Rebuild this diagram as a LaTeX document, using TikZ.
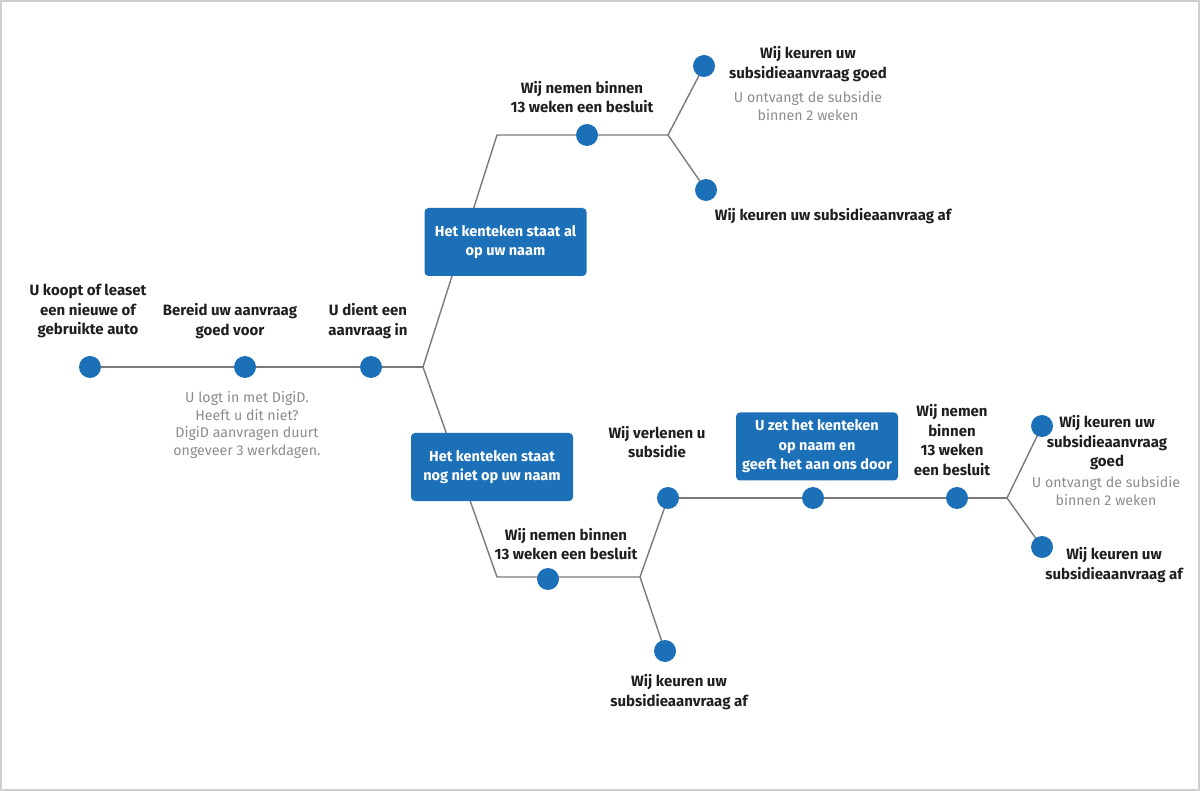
\documentclass[tikz,border=0pt]{standalone}
\usepackage{fontspec}
\setmainfont{Fira Sans}
\usetikzlibrary{backgrounds}
\definecolor{rblue}{HTML}{1C70B8}
\definecolor{lgray}{HTML}{7A7A7A}
\definecolor{tgray}{HTML}{8C8C8C}
\definecolor{frame}{HTML}{CFCFCF}
\begin{document}
\begin{tikzpicture}[x=1pt,y=-1pt,
 dot/.style={circle,fill=rblue,minimum size=22pt,inner sep=0pt},
 lbl/.style={align=center,font=\fontsize{15}{19.5}\selectfont\bfseries,text=black!88,inner sep=0pt},
 sub/.style={align=center,font=\fontsize{14.2}{17.5}\selectfont,text=tgray,inner sep=0pt},
 box/.style={fill=rblue,rounded corners=4pt,text=white,align=center,font=\fontsize{14.5}{19.5}\selectfont\bfseries,inner sep=0pt,minimum width=162pt,minimum height=68pt},
 conn/.style={draw=lgray,line width=1.4pt}]
\useasboundingbox (0,0) rectangle (1200,791);
\draw[frame,line width=2pt] (1,1) rectangle (1199,790);
% dots and coordinates
\node[dot] (d1) at (90,367) {};
\node[dot] (d2) at (245,367) {};
\node[dot] (d3) at (371,367) {};
\coordinate (j1) at (423,367);
\coordinate (c1) at (497,135);
\node[dot] (d4) at (587,135) {};
\coordinate (j2) at (668,135);
\node[dot] (d5) at (704,66) {};
\node[dot] (d6) at (706,190) {};
\coordinate (c2) at (497,577);
\node[dot] (d7) at (548,579) {};
\coordinate (j3) at (640,577);
\node[dot] (d8) at (668,498) {};
\node[dot] (d9) at (665,651) {};
\node[dot] (d10) at (813,498) {};
\node[dot] (d11) at (957,498) {};
\coordinate (j4) at (1007,498);
\node[dot] (d12) at (1042,426) {};
\node[dot] (d13) at (1042,547) {};
% boxes
\node[box] (b1) at (505.5,242) {Het kenteken staat al\\op uw naam};
\node[box] (b2) at (492,467) {Het kenteken staat\\nog niet op uw naam};
\node[box] (b3) at (817,446.5) {U zet het kenteken\\op naam en\\geeft het aan ons door};
% connectors
\begin{scope}[on background layer]
\draw[conn] (d1.center) -- (d2.center) -- (d3.center) -- (j1);
\draw[conn] (j1) -- (c1) -- (d4.center) -- (j2);
\draw[conn] (d5.center) -- (j2) -- (d6.center);
\draw[conn] (j1) -- (c2) -- (j3);
\draw[conn] (d8.center) -- (j3) -- (d9.center);
\draw[conn] (d8.center) -- (d10.center) -- (d11.center) -- (j4);
\draw[conn] (d12.center) -- (j4) -- (d13.center);
\end{scope}
% labels
\node[lbl] (t1) at (88,311) {U koopt of leaset\\een nieuwe of\\gebruikte auto};
\node[lbl] (t2) at (230,321) {Bereid uw aanvraag\\goed voor};
\node[lbl] (t3) at (368,321) {U dient een\\aanvraag in};
\node[sub] (g1) at (247,425) {U logt in met DigiD.\\Heeft u dit niet?\\DigiD aanvragen duurt\\ongeveer 3 werkdagen.};
\node[lbl] (t4) at (582,97) {Wij nemen binnen\\13 weken een besluit};
\node[lbl] (t5) at (808,64) {Wij keuren uw\\subsidieaanvraag goed};
\node[sub] (g2) at (808,106) {U ontvangt de subsidie\\binnen 2 weken};
\node[lbl] (t6) at (833,216) {Wij keuren uw subsidieaanvraag af};
\node[lbl] (t7) at (566,544) {Wij nemen binnen\\13 weken een besluit};
\node[lbl] (t8) at (657,442) {Wij verlenen u\\subsidie};
\node[lbl] (t9) at (952,440) {Wij nemen\\binnen\\13 weken\\een besluit};
\node[lbl] (t10) at (1107,443) {Wij keuren uw\\subsidieaanvraag\\goed};
\node[sub] (g3) at (1106,491) {U ontvangt de subsidie\\binnen 2 weken};
\node[lbl] (t11) at (1114,565) {Wij keuren uw\\subsidieaanvraag af};
\node[lbl] (t12) at (679,692) {Wij keuren uw\\subsidieaanvraag af};
\end{tikzpicture}
\end{document}
